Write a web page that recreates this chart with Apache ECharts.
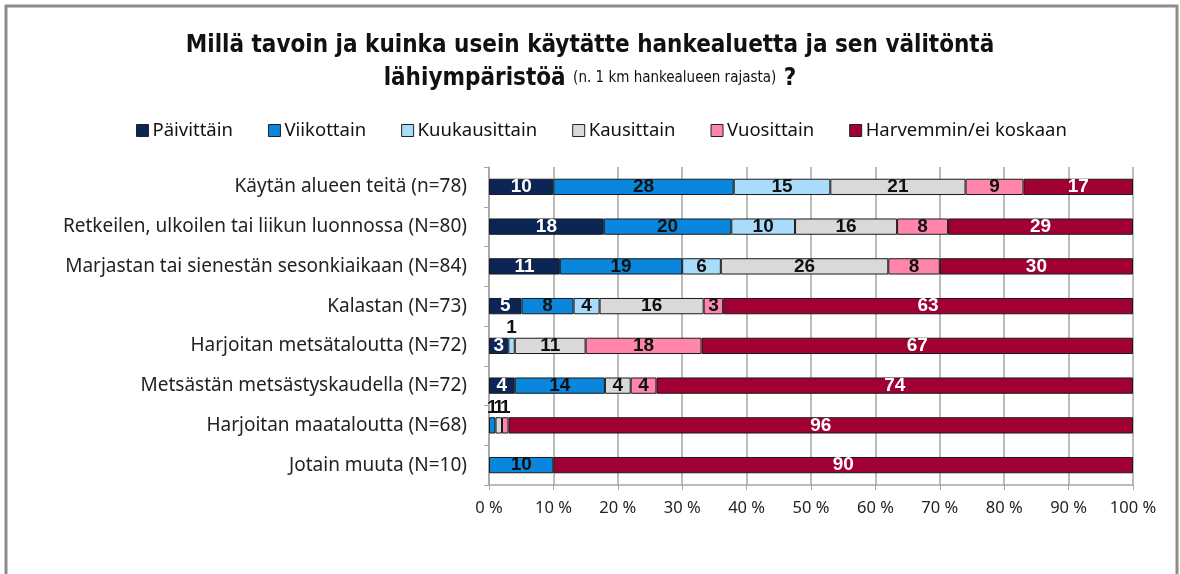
<!DOCTYPE html>
<html>
<head>
<meta charset="utf-8">
<script src="https://cdn.jsdelivr.net/npm/echarts@6/dist/echarts.min.js"></script>
<style>
  html, body { margin: 0; padding: 0; background: #fff; }
  #chart { width: 1180px; height: 574px; }
</style>
</head>
<body>
<div id="chart"></div>
<script>
const categories = [
  'Käytän alueen teitä (n=78)',
  'Retkeilen, ulkoilen tai liikun luonnossa (N=80)',
  'Marjastan tai sienestän sesonkiaikaan (N=84)',
  'Kalastan (N=73)',
  'Harjoitan metsätaloutta (N=72)',
  'Metsästän metsästyskaudella (N=72)',
  'Harjoitan maataloutta (N=68)',
  'Jotain muuta (N=10)'
];
const seriesNames = ['Päivittäin', 'Viikottain', 'Kuukausittain', 'Kausittain', 'Vuosittain', 'Harvemmin/ei koskaan'];
const paivittain = [10, 18, 11, 5, 3, 4, 0, 0];
const viikottain = [28, 20, 19, 8, 0, 14, 1, 10];
const kuukausittain = [15, 10, 6, 4, 1, 0, 0, 0];
const kausittain = [21, 16, 26, 16, 11, 4, 1, 0];
const vuosittain = [9, 8, 8, 3, 18, 4, 1, 0];
const harvemmin = [17, 29, 30, 63, 67, 74, 96, 90];
const xTicks = ['0 %', '10 %', '20 %', '30 %', '40 %', '50 %', '60 %', '70 %', '80 %', '90 %', '100 %'];

const colors = ['#0b2554', '#0a86dc', '#a9dcfb', '#d9d9d9', '#ff86aa', '#a10033'];
const labelColors = ['#fff', '#111', '#111', '#111', '#111', '#fff'];
const raw = [paivittain, viikottain, kuukausittain, kausittain, vuosittain, harvemmin];
const condensed = "'Liberation Sans Narrow', 'DejaVu Sans Condensed', sans-serif";

// 100 % pinottu: normalisoidaan rivisummaan kuten Excel
const totals = categories.map((c, i) => raw.reduce((s, arr) => s + arr[i], 0));

const series = raw.map((arr, si) => ({
  name: seriesNames[si],
  type: 'bar',
  stack: 'total',
  barWidth: '41%',
  itemStyle: { color: colors[si], borderColor: '#1a1a1a', borderWidth: 1 },
  data: arr.map((v, i) => {
    if (!v) return '-';
    const d = { value: v / totals[i] * 100, raw: v };
    if (v <= 1) {
      d.label = { position: 'top', distance: 0, color: '#111' };
    }
    return d;
  }),
  label: {
    show: true,
    position: 'inside',
    color: labelColors[si],
    fontFamily: "'Liberation Sans', Arial, sans-serif",
    fontWeight: 'bold',
    fontSize: 19,
    formatter: p => p.data.raw
  }
}));

const chart = echarts.init(document.getElementById('chart'));
chart.setOption({
  animation: false,
  color: colors,
  title: {
    text: 'Millä tavoin ja kuinka usein käytätte hankealuetta ja sen välitöntä\n{b|lähiympäristöä} {s|(n. 1 km hankealueen rajasta)} {b|?}',
    left: 'center',
    top: 24,
    textStyle: {
      fontFamily: condensed,
      fontWeight: 'bold',
      fontSize: 24,
      color: '#111',
      lineHeight: 33,
      rich: {
        b: { fontFamily: condensed, fontWeight: 'bold', fontSize: 24, color: '#111', lineHeight: 33 },
        s: { fontFamily: condensed, fontWeight: 'normal', fontSize: 15, color: '#111', lineHeight: 33 }
      }
    }
  },
  legend: {
    data: seriesNames,
    top: 116,
    left: 131,
    itemWidth: 12,
    itemHeight: 12,
    itemGap: 35,
    icon: 'rect',
    itemStyle: { borderColor: '#222', borderWidth: 1 },
    textStyle: { fontFamily: 'Noto Sans, sans-serif', fontSize: 18.5, color: '#111', padding: [0, 0, 0, -1] }
  },
  grid: { left: 489, right: 47, top: 167, bottom: 89 },
  xAxis: {
    type: 'value',
    min: 0,
    max: 100,
    interval: 10,
    axisLine: { show: true, lineStyle: { color: '#a6a6a6', width: 1.5 } },
    axisTick: { show: true, length: 5, lineStyle: { color: '#a6a6a6' } },
    splitLine: { show: true, lineStyle: { color: '#a6a6a6', width: 1.5 } },
    axisLabel: {
      fontFamily: 'Noto Sans, sans-serif',
      fontSize: 16.5,
      color: '#222',
      margin: 15,
      formatter: (v) => xTicks[Math.round(v / 10)]
    }
  },
  yAxis: {
    type: 'category',
    inverse: true,
    data: categories,
    axisLine: { show: true, lineStyle: { color: '#a6a6a6', width: 1.5 } },
    axisTick: { show: true, length: 5, lineStyle: { color: '#a6a6a6' } },
    axisLabel: { fontFamily: 'Noto Sans, sans-serif', fontSize: 19, color: '#222', margin: 22 }
  },
  graphic: [{
    type: 'rect',
    shape: { x: 6, y: 6, width: 1171, height: 600 },
    style: { fill: null, stroke: '#8c8c8c', lineWidth: 3 },
    silent: true
  }],
  series: series
});
</script>
</body>
</html>
